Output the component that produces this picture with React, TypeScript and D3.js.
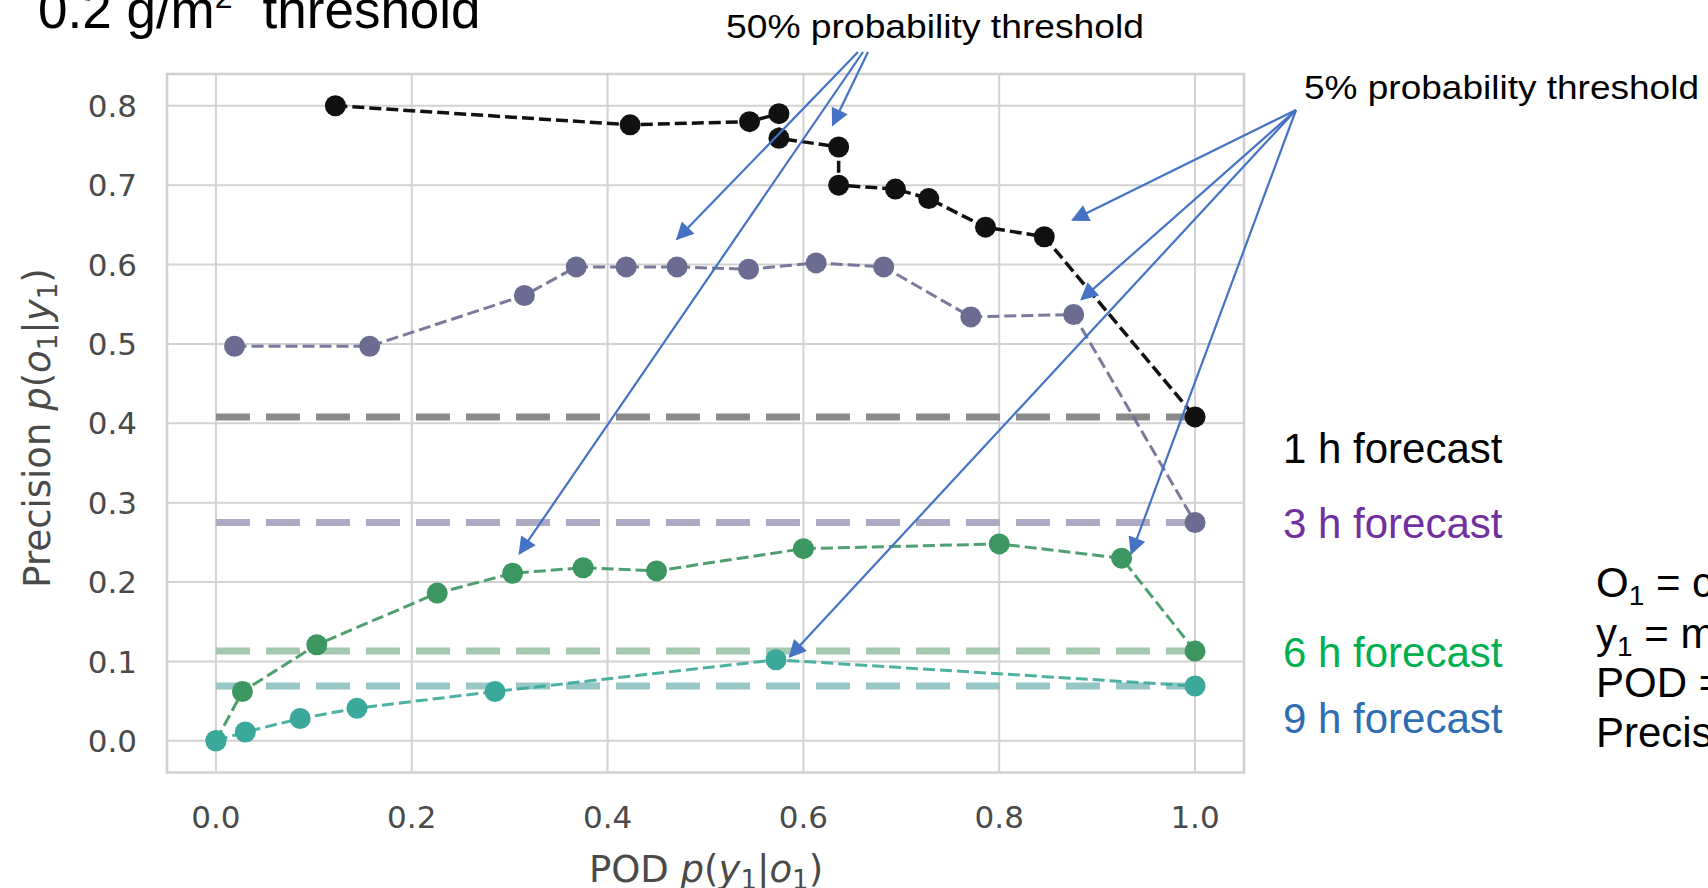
import React from 'react';
import * as d3 from 'd3';

// POD (x) / precision (y) pairs for each lead time, in the order they are joined
const series1h = [
  [0.122, 0.800], [0.423, 0.776], [0.545, 0.780], [0.575, 0.790], [0.575, 0.759],
  [0.636, 0.748], [0.636, 0.700], [0.694, 0.695], [0.728, 0.683], [0.786, 0.647],
  [0.846, 0.635], [1.0, 0.408],
];
const series3h = [
  [0.019, 0.497], [0.157, 0.497], [0.315, 0.561], [0.368, 0.597], [0.419, 0.597],
  [0.471, 0.597], [0.544, 0.594], [0.613, 0.602], [0.682, 0.597], [0.771, 0.534],
  [0.876, 0.537], [1.0, 0.275],
];
const series6h = [
  [0.0, 0.0], [0.027, 0.062], [0.103, 0.121], [0.226, 0.186], [0.303, 0.211],
  [0.375, 0.218], [0.450, 0.214], [0.600, 0.242], [0.800, 0.248], [0.925, 0.230],
  [1.0, 0.113],
];
const series9h = [
  [0.0, 0.0], [0.030, 0.011], [0.086, 0.028], [0.144, 0.041], [0.285, 0.062],
  [0.572, 0.102], [1.0, 0.069],
];
// base-rate lines (precision of always-yes)
const baseRates = [0.408, 0.275, 0.113, 0.069];

const xTicks = [0, 0.2, 0.4, 0.6, 0.8, 1.0];
const yTicks = [0, 0.1, 0.2, 0.3, 0.4, 0.5, 0.6, 0.7, 0.8];

const legendLabels = ['1 h forecast', '3 h forecast', '6 h forecast', '9 h forecast'];
const legendColors = ['#000000', '#7030a0', '#00b050', '#2e6db4'];

const markColors = ['#111111', '#6c6c92', '#3b9660', '#3aa89a'];
const baseColors = ['#8a8a8a', '#aeaac4', '#a2c8ae', '#96c6c6'];

// arrow tips in data units; the tails sit under the two labels
const arrows50 = [[0.471, 0.632], [0.31, 0.236], [0.630, 0.776]];
const arrows5 = [[0.875, 0.656], [0.884, 0.556], [0.586, 0.106], [0.935, 0.236]];

const W = 1708;
const H = 888;
const FONT = '"Liberation Sans", Arial, sans-serif';
const TICKFONT = '"DejaVu Sans", sans-serif';

export default function App() {
  const x = d3.scaleLinear().domain([-0.05, 1.05]).range([167, 1244]);
  const y = d3.scaleLinear().domain([-0.04, 0.84]).range([772.5, 74]);

  const line = d3.line<number[]>().x(d => x(d[0])).y(d => y(d[1]));
  const all = [series1h, series3h, series6h, series9h];

  const arrowLine = (x0: number, y0: number, d: number[], key: string) => (
    <line key={key} x1={x0} y1={y0} x2={x(d[0])} y2={y(d[1])}
      stroke="#4472c4" strokeWidth={2.2} markerEnd="url(#arr)" />
  );

  return (
    <svg width={W} height={H} style={{ position: 'absolute', left: 0, top: 0, background: '#fff' }}>
      <defs>
        <marker id="arr" viewBox="0 0 10 10" refX="9" refY="5" markerWidth="10" markerHeight="8"
          markerUnits="strokeWidth" orient="auto">
          <path d="M0,0 L10,5 L0,10 z" fill="#4472c4" />
        </marker>
      </defs>

      {/* title */}
      <text x={38} y={28} fontFamily={FONT} fontSize={53} fill="#000">
        0.2 g/m<tspan fontSize={32} dy={-20}>2</tspan>
        <tspan dy={20} dx={30}>threshold</tspan>
      </text>

      {/* frame + grid */}
      <rect x={167} y={74} width={1244 - 167} height={772.5 - 74} fill="#fff" stroke="#d0d0d0" strokeWidth={2.5} />
      {xTicks.map(t => (
        <line key={'gx' + t} x1={x(t)} x2={x(t)} y1={74} y2={772.5} stroke="#d2d2d2" strokeWidth={2} />
      ))}
      {yTicks.map(t => (
        <line key={'gy' + t} x1={167} x2={1244} y1={y(t)} y2={y(t)} stroke="#d2d2d2" strokeWidth={2} />
      ))}

      {/* tick labels */}
      {xTicks.map(t => (
        <text key={'tx' + t} x={x(t)} y={828} textAnchor="middle" fontFamily={TICKFONT}
          fontSize={31} fill="#4a4a4a">{t.toFixed(1)}</text>
      ))}
      {yTicks.map(t => (
        <text key={'ty' + t} x={137} y={y(t)} dy="0.36em" textAnchor="end" fontFamily={TICKFONT}
          fontSize={31} fill="#4a4a4a">{t.toFixed(1)}</text>
      ))}

      {/* axis labels */}
      <text x={706} y={882} textAnchor="middle" fontFamily={TICKFONT} fontSize={37} fill="#4a4a4a">
        POD <tspan fontStyle="italic">p</tspan>(<tspan fontStyle="italic">y</tspan>
        <tspan fontSize={26} dy={7}>1</tspan><tspan dy={-7}>|</tspan>
        <tspan fontStyle="italic">o</tspan><tspan fontSize={26} dy={7}>1</tspan><tspan dy={-7}>)</tspan>
      </text>
      <text transform="translate(50,428) rotate(-90)" textAnchor="middle" fontFamily={TICKFONT}
        fontSize={37} fill="#4a4a4a">
        Precision <tspan fontStyle="italic">p</tspan>(<tspan fontStyle="italic">o</tspan>
        <tspan fontSize={26} dy={7}>1</tspan><tspan dy={-7}>|</tspan>
        <tspan fontStyle="italic">y</tspan><tspan fontSize={26} dy={7}>1</tspan><tspan dy={-7}>)</tspan>
      </text>

      {/* base-rate dashed lines */}
      {baseRates.map((b, i) => (
        <line key={'b' + i} x1={x(0)} x2={x(1)} y1={y(b)} y2={y(b)} stroke={baseColors[i]}
          strokeWidth={7} strokeDasharray="34,16" />
      ))}

      {/* series */}
      {all.map((s, i) => (
        <g key={'s' + i}>
          <path d={line(s) || ''} fill="none" stroke={markColors[i]} strokeWidth={i === 0 ? 3.5 : 3}
            strokeDasharray="12,5" opacity={i === 0 ? 1 : 0.9} />
          {s.map((d, j) => (
            <circle key={j} cx={x(d[0])} cy={y(d[1])} r={10.5} fill={markColors[i]} />
          ))}
        </g>
      ))}

      {/* annotations */}
      <text x={726} y={38} fontFamily={FONT} fontSize={33} textLength={418}
        lengthAdjust="spacingAndGlyphs" fill="#000">50% probability threshold</text>
      {arrows50.map((d, i) => arrowLine(858 + i * 5, 52, d, 'a50' + i))}

      <text x={1304} y={99} fontFamily={FONT} fontSize={33} textLength={395}
        lengthAdjust="spacingAndGlyphs" fill="#000">5% probability threshold</text>
      {arrows5.map((d, i) => arrowLine(1296, 110, d, 'a5' + i))}

      {/* legend */}
      {legendLabels.map((l, i) => (
        <text key={l} x={1283} y={[463, 538, 667, 733][i]} fontFamily={FONT} fontSize={42}
          fill={legendColors[i]}>{l}</text>
      ))}

      {/* definitions, cut by the edge */}
      <g fontFamily={FONT} fontSize={42} fill="#000">
        <text x={1596} y={597}>O<tspan fontSize={28} dy={8}>1</tspan><tspan dy={-8}> = cloud observed</tspan></text>
        <text x={1596} y={648}>y<tspan fontSize={28} dy={8}>1</tspan><tspan dy={-8}> = model predicts cloud</tspan></text>
        <text x={1596} y={697}>POD = probability of detection</text>
        <text x={1596} y={747}>Precision = hit fraction</text>
      </g>
    </svg>
  );
}
